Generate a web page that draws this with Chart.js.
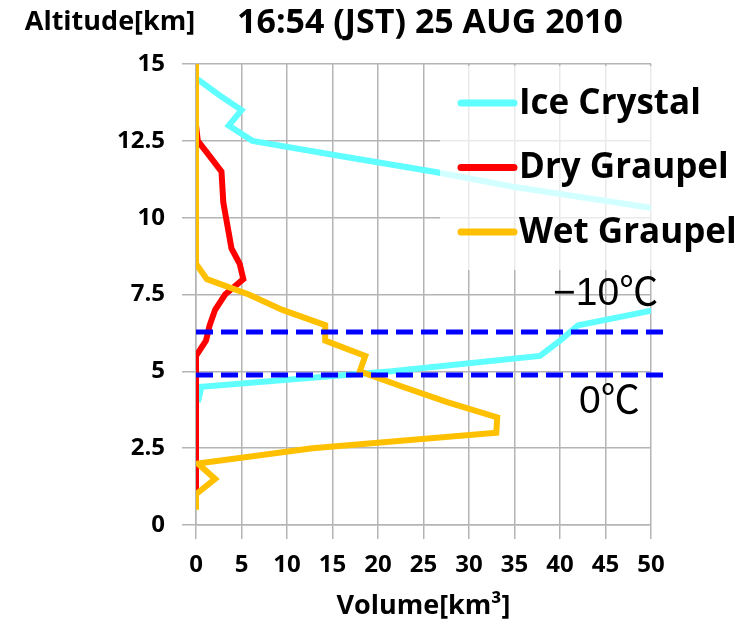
<!DOCTYPE html>
<html>
<head>
<meta charset="utf-8">
<script src="https://cdn.jsdelivr.net/npm/chart.js@4.4.0/dist/chart.umd.min.js"></script>
<style>
  html, body { margin: 0; padding: 0; background: #fff; }
</style>
</head>
<body>
<canvas id="myChart" width="749" height="630"></canvas>
<script>
// altitude levels [km], top to bottom
const altitudes = [15, 14.5, 14, 13.5, 13, 12.5, 12, 11.5, 11, 10.5, 10, 9.5, 9, 8.5, 8, 7.5, 7, 6.5, 6, 5.5, 5, 4.5, 4, 3.5, 3, 2.5, 2, 1.5, 1, 0.5, 0];

// volume [km3] per altitude (null = no value / off scale)
const iceCrystal = [null, 0.2, 2.5, 5.0, 3.6, 6.2, 16, 26, 35, 46, 57, null, null, null, null, null, 50.5, 42, 40, 37.8, 21.5, 0.6, 0.2, null, null, null, null, null, null, null, null];
const dryGraupel = [null, null, null, null, 0, 0.2, 1.5, 2.8, 2.9, 3.0, 3.3, 3.6, 3.9, 4.8, 5.2, 3.2, 2.1, 1.5, 1.1, 0, 0, 0, 0, 0, 0, 0, 0, 0, 0, null, null];
const wetGraupel = [0, 0, 0, 0, 0, 0, 0, 0, 0, 0, 0, 0, 0, 0, 1.2, 5.8, 9.5, 14.2, 14.2, 18.6, 18.0, 22.7, 27.6, 33.1, 33.0, 12.8, 0.2, 2.1, 0, 0, null];

const seriesNames = ['Ice Crystal', 'Dry Graupel', 'Wet Graupel'];
const seriesColors = ['#5fffff', '#ff0000', '#ffc000'];

// isotherm heights [km]
const isoLabels = ['\u221210\u2103', '0\u2103'];
const isoAltitudes = [6.28, 4.88];
const isoExtent = [0, 51.5];

const xTicks = [0, 5, 10, 15, 20, 25, 30, 35, 40, 45, 50];
const yTicks = [0, 2.5, 5, 7.5, 10, 12.5, 15];

const titleText = '16:54 (JST) 25 AUG 2010';
const yTitle = 'Altitude[km]';
const xTitle = 'Volume[km\u00b3]';

const toPoints = (vals) => altitudes.map((a, i) => ({ x: vals[i], y: a }));

const datasets = [iceCrystal, dryGraupel, wetGraupel].map((vals, i) => ({
  label: seriesNames[i],
  data: toPoints(vals),
  borderColor: seriesColors[i],
  backgroundColor: seriesColors[i],
  borderWidth: 6,
  pointRadius: 0,
  tension: 0,
  order: 5 - i
}));

isoAltitudes.forEach((alt, i) => {
  datasets.push({
    label: '',
    data: isoExtent.map(v => ({ x: v, y: alt })),
    borderColor: '#0000ff',
    borderWidth: 5,
    borderDash: [17, 8],
    pointRadius: 0,
    clip: false,
    order: 1
  });
});

const bold = (size) => `bold ${size}px "Open Sans", Lato, sans-serif`;

const overlay = {
  id: 'overlay',
  afterDatasetsDraw(chart) {
    const ctx = chart.ctx;
    const ys = chart.scales.y;
    const area = chart.chartArea;
    ctx.save();

    // legend sits over the plot, half transparent
    ctx.fillStyle = 'rgba(255,255,255,0.72)';
    ctx.fillRect(440, area.top + 2, 749 - 440, 204);
    ctx.lineCap = 'round';
    ctx.lineWidth = 7;
    ctx.textBaseline = 'middle';
    ctx.textAlign = 'left';
    ctx.font = bold(35);
    seriesNames.forEach((name, i) => {
      const cy = 103 + i * 64.5;
      ctx.strokeStyle = seriesColors[i];
      ctx.beginPath();
      ctx.moveTo(461, cy);
      ctx.lineTo(514, cy);
      ctx.stroke();
      ctx.fillStyle = '#000';
      ctx.fillText(name, 519, cy + 1);
    });

    // isotherm labels
    ctx.font = '39px "Liberation Sans", Arial, "Noto Sans CJK JP", sans-serif';
    ctx.textBaseline = 'alphabetic';
    ctx.fillStyle = '#000';
    ctx.fillText(isoLabels[0], 553, ys.getPixelForValue(isoAltitudes[0]) - 27);
    ctx.fillText(isoLabels[1], 579, ys.getPixelForValue(isoAltitudes[1]) + 38);

    // titles
    ctx.textBaseline = 'middle';
    ctx.textAlign = 'center';
    ctx.font = bold(34);
    ctx.fillText(titleText, 430, 23);
    ctx.font = bold(27);
    ctx.fillText(yTitle, 110, 22);
    ctx.fillText(xTitle, (area.left + area.right) / 2, 606);
    ctx.restore();
  }
};

new Chart(document.getElementById('myChart'), {
  type: 'line',
  data: { datasets: datasets },
  plugins: [overlay],
  options: {
    responsive: false,
    animation: false,
    indexAxis: 'y',
    layout: { padding: { top: 64, right: 98, left: 0, bottom: 0 } },
    plugins: {
      legend: { display: false },
      title: { display: false },
      tooltip: { enabled: false }
    },
    scales: {
      x: {
        type: 'linear',
        min: 0,
        max: 50,
        afterBuildTicks: (scale) => { scale.ticks = xTicks.map(v => ({ value: v })); },
        afterFit: (scale) => { scale.height = 105; },
        grid: { color: '#b4b4b4', lineWidth: 1.5, tickLength: 14 },
        border: { color: '#b4b4b4', width: 1.5 },
        ticks: { color: '#000', font: { family: '"Open Sans"', weight: 'bold', size: 24 }, padding: 12, maxRotation: 0 }
      },
      y: {
        type: 'linear',
        min: 0,
        max: 15,
        afterBuildTicks: (scale) => { scale.ticks = yTicks.map(v => ({ value: v })); },
        afterFit: (scale) => { scale.width = 196; },
        grid: { color: '#b4b4b4', lineWidth: 1.5, tickLength: 14 },
        border: { color: '#b4b4b4', width: 1.5 },
        ticks: { color: '#000', font: { family: '"Open Sans"', weight: 'bold', size: 24 }, padding: 17 }
      }
    }
  }
});
</script>
</body>
</html>
